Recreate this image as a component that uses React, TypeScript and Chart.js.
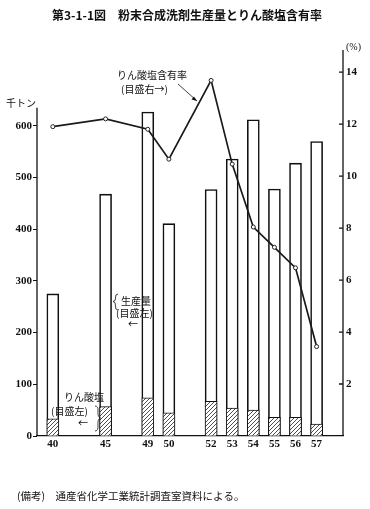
import { useEffect, useRef } from 'react';
import { Chart, registerables } from 'chart.js';

Chart.register(...registerables);

// ---- data ----
const years = ['40', '45', '49', '50', '52', '53', '54', '55', '56', '57'];
const production = [275, 468, 627, 411, 477, 536, 612, 478, 528, 570]; // 千トン
const phosphate = [33, 57, 74, 45, 67, 54, 50, 36, 36, 23]; // 千トン
const rate = [11.9, 12.2, 11.8, 10.65, 13.68, 10.46, 8.04, 7.26, 6.47, 3.44]; // %
const leftTicks = [0, 100, 200, 300, 400, 500, 600];
const rightTicks = [2, 4, 6, 8, 10, 12, 14];

// ---- axis layout: half-year slots (the original axis is compressed before 49) ----
const axisSlots = ['', '40', '', '', '', '', '45', '', '', '', '49', '', '50', '', '', '', '52', '', '53', '', '54', '', '55', '', '56', '', '57', '', ''];

const TITLE = '第3-1-1図　粉末合成洗剤生産量とりん酸塩含有率';
const NOTE = '(備考)　通産省化学工業統計調査室資料による。';

const spread = (vals: number[]) =>
  axisSlots.map((lab) => {
    const i = years.indexOf(lab);
    return lab !== '' && i >= 0 ? vals[i] : null;
  });

const JP = '"Noto Sans CJK JP"';
const SERIF = '"Liberation Serif"';

function makeHatch(ctx: CanvasRenderingContext2D) {
  const c = document.createElement('canvas');
  c.width = 4;
  c.height = 4;
  const g = c.getContext('2d')!;
  g.fillStyle = '#fff';
  g.fillRect(0, 0, 4, 4);
  g.strokeStyle = '#222';
  g.lineWidth = 0.8;
  g.beginPath();
  g.moveTo(0, 4);
  g.lineTo(4, 0);
  g.moveTo(-1, 1);
  g.lineTo(1, -1);
  g.moveTo(3, 5);
  g.lineTo(5, 3);
  g.stroke();
  return ctx.createPattern(c, 'repeat')!;
}

const overlay = {
  id: 'overlay',
  afterDraw(chart: any) {
    const { ctx, scales } = chart;
    const y = scales.y;
    const y1 = scales.y1;
    ctx.save();
    ctx.strokeStyle = '#111';
    ctx.lineWidth = 1.3;
    // left axis line
    const lx = y.right;
    ctx.beginPath();
    ctx.moveTo(lx, y.getPixelForValue(0));
    ctx.lineTo(lx, y.getPixelForValue(635));
    ctx.stroke();
    // right axis line + inner tick marks
    const rx = y1.left;
    ctx.beginPath();
    ctx.moveTo(rx, y1.getPixelForValue(0));
    ctx.lineTo(rx, y1.top);
    rightTicks.forEach((v) => {
      const py = y1.getPixelForValue(v);
      ctx.moveTo(rx - 4, py);
      ctx.lineTo(rx, py);
    });
    ctx.stroke();

    ctx.fillStyle = '#111';
    ctx.textBaseline = 'middle';
    // title
    ctx.font = `bold 12px ${JP}`;
    ctx.textAlign = 'center';
    ctx.fillText(TITLE, 187, 15);
    // footer
    ctx.font = `10.5px ${JP}`;
    ctx.textAlign = 'left';
    ctx.fillText(NOTE, 17, 496);
    // unit labels
    ctx.font = `10px ${JP}`;
    ctx.fillText('千トン', 6, 103);
    ctx.font = `10px ${SERIF}`;
    ctx.fillText('(%)', 346, 47);

    // rate annotation
    ctx.font = `10px ${JP}`;
    ctx.fillText('りん酸塩含有率', 117, 75);
    ctx.fillText('(目盛右→)', 121, 89);
    ctx.lineWidth = 0.8;
    ctx.beginPath();
    ctx.moveTo(178, 84);
    ctx.lineTo(197, 101);
    ctx.stroke();
    ctx.beginPath();
    ctx.moveTo(197, 101);
    ctx.lineTo(191.5, 99.5);
    ctx.lineTo(194, 96.5);
    ctx.closePath();
    ctx.fill();

    // production annotation
    ctx.fillText('生産量', 121, 301);
    ctx.fillText('(目盛左)', 116, 313);
    ctx.fillText('←', 128, 324);
    ctx.beginPath();
    ctx.moveTo(118, 294);
    ctx.quadraticCurveTo(115, 294, 115.5, 298);
    ctx.quadraticCurveTo(116, 301, 113, 301.5);
    ctx.quadraticCurveTo(116, 302, 115.5, 306);
    ctx.quadraticCurveTo(115, 310, 118, 310);
    ctx.stroke();

    // phosphate annotation
    ctx.fillText('りん酸塩', 64, 397);
    ctx.fillText('(目盛左)', 51, 411);
    ctx.fillText('←', 78, 423);
    ctx.beginPath();
    ctx.moveTo(95, 406);
    ctx.quadraticCurveTo(98.5, 406, 98, 411);
    ctx.quadraticCurveTo(97.5, 417, 100.5, 418);
    ctx.quadraticCurveTo(97.5, 419, 98, 425);
    ctx.quadraticCurveTo(98.5, 431, 95, 431);
    ctx.stroke();
    ctx.restore();
  },
};

export default function App() {
  const ref = useRef<HTMLCanvasElement | null>(null);
  useEffect(() => {
    const canvas = ref.current!;
    const ctx = canvas.getContext('2d')!;
    const hatch = makeHatch(ctx);
    const chart = new Chart(ctx, {
      type: 'bar',
      data: {
        labels: axisSlots,
        datasets: [
          {
            type: 'line',
            label: 'りん酸塩含有率',
            data: spread(rate),
            yAxisID: 'y1',
            borderColor: '#1a1a1a',
            borderWidth: 1.7,
            pointRadius: 2,
            pointBackgroundColor: '#fff',
            pointBorderColor: '#222',
            pointBorderWidth: 1,
            spanGaps: true,
            tension: 0,
            order: 1,
          } as any,
          {
            type: 'bar',
            label: 'りん酸塩',
            data: spread(phosphate),
            yAxisID: 'y',
            backgroundColor: hatch,
            borderColor: '#111',
            borderWidth: 1,
            barThickness: 12,
            grouped: false,
            order: 2,
          } as any,
          {
            type: 'bar',
            label: '生産量',
            data: spread(production),
            yAxisID: 'y',
            backgroundColor: '#fff',
            borderColor: '#111',
            borderWidth: 1.6,
            barThickness: 12,
            grouped: false,
            order: 3,
          } as any,
        ],
      },
      options: {
        responsive: false,
        animation: false,
        events: [],
        layout: { padding: { top: 50, left: 0, right: 0, bottom: 0 } },
        plugins: { legend: { display: false }, tooltip: { enabled: false }, title: { display: false } },
        scales: {
          x: {
            type: 'category',
            offset: true,
            grid: { display: true, drawOnChartArea: false, drawTicks: false },
            border: { display: true, color: '#111', width: 1.3 },
            ticks: {
              autoSkip: false,
              maxRotation: 0,
              minRotation: 0,
              padding: 2,
              color: '#111',
              font: { family: 'Liberation Serif', size: 11, weight: 'bold' },
            },
            afterFit: (s: any) => {
              s.height = 73;
            },
          },
          y: {
            position: 'left',
            min: 0,
            max: 747,
            afterBuildTicks: (s: any) => {
              s.ticks = leftTicks.map((v) => ({ value: v }));
            },
            grid: { display: true, drawOnChartArea: false, drawTicks: true, tickLength: 4, color: '#111' },
            border: { display: false },
            ticks: {
              padding: 1,
              color: '#111',
              font: { family: 'Liberation Serif', size: 11, weight: 'bold' },
            },
            afterFit: (s: any) => {
              s.width = 37;
            },
          },
          y1: {
            position: 'right',
            min: 0,
            max: 14.85,
            afterBuildTicks: (s: any) => {
              s.ticks = rightTicks.map((v) => ({ value: v }));
            },
            grid: { display: true, drawOnChartArea: false, drawTicks: false },
            border: { display: false },
            ticks: {
              padding: 3,
              color: '#111',
              font: { family: 'Liberation Serif', size: 11, weight: 'bold' },
            },
            afterFit: (s: any) => {
              s.width = 27;
            },
          },
        },
      },
      plugins: [overlay],
    });
    return () => chart.destroy();
  }, []);
  return (
    <div style={{ position: 'absolute', left: 0, top: 0, width: 370, height: 509, background: '#fff' }}>
      <canvas ref={ref} width={370} height={509} style={{ display: 'block' }} />
    </div>
  );
}
